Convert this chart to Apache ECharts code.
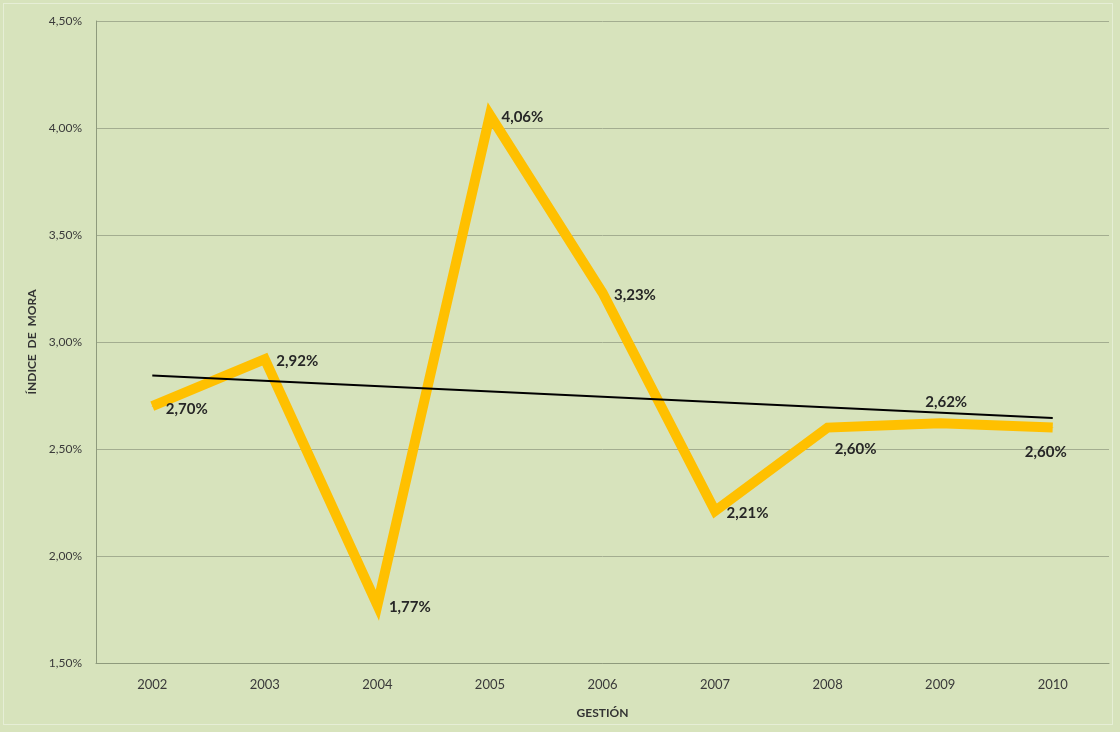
<!DOCTYPE html>
<html>
<head>
<meta charset="utf-8">
<script src="https://cdn.jsdelivr.net/npm/echarts@6/dist/echarts.min.js"></script>
<style>
html,body{margin:0;padding:0;background:#d7e3bc;}
#frame{position:absolute;left:3px;top:3px;width:1110px;height:722px;border:1px solid #e6eed6;box-sizing:border-box;}
#chart{position:absolute;left:0;top:0;width:1120px;height:732px;}
</style>
</head>
<body>
<div id="frame"></div>
<div id="chart"></div>
<script>
const categories = ['2002','2003','2004','2005','2006','2007','2008','2009','2010'];
const moraValues = [2.70, 2.92, 1.77, 4.06, 3.23, 2.21, 2.60, 2.62, 2.60];
const labelPlacement = ['br','r','r','r','r','r','b8','t','b10'];
const trendStart = 2.843;
const trendEnd = 2.645;

function pct(v){ return v.toFixed(2).replace('.', ',') + '%'; }

const labelOffsets = {
  br:  {position:'right', offset:[8, 3]},
  r:   {position:'right', offset:[6, 2]},
  b8:  {position:'bottom', offset:[28, 9]},
  b10: {position:'bottom', offset:[-7, 12]},
  t:   {position:'top', offset:[6, -8]}
};

const lineData = moraValues.map((v, i) => ({
  value: v,
  label: Object.assign({show:true}, labelOffsets[labelPlacement[i]])
}));

const chart = echarts.init(document.getElementById('chart'), null, {renderer:'canvas'});
chart.setOption({
  backgroundColor: 'transparent',
  animation: false,
  textStyle: {fontFamily: 'Lato'},
  grid: {left: 96, right: 11, top: 21, bottom: 69},
  xAxis: {
    type: 'category',
    data: categories,
    boundaryGap: true,
    name: 'GESTIÓN',
    nameLocation: 'middle',
    nameGap: 44,
    nameTextStyle: {fontWeight: 'bold', fontSize: 12, color: '#333'},
    axisLine: {lineStyle: {color: '#8e9a7c', width: 1}},
    axisTick: {show: false},
    axisLabel: {color: '#3a3a3a', fontSize: 13, margin: 15}
  },
  yAxis: {
    type: 'value',
    min: 1.5,
    max: 4.5,
    interval: 0.5,
    name: 'ÍNDICE  DE  MORA',
    nameLocation: 'middle',
    nameGap: 57,
    nameTextStyle: {fontWeight: 'bold', fontSize: 12, color: '#333'},
    axisLine: {show: true, lineStyle: {color: '#8e9a7c', width: 1}},
    axisTick: {show: false},
    axisLabel: {color: '#3a3a3a', fontSize: 12, margin: 14, formatter: pct},
    splitLine: {lineStyle: {color: '#a3ad90', width: 1}}
  },
  series: [
    {
      type: 'line',
      data: lineData,
      symbol: 'circle',
      symbolSize: 1,
      showSymbol: true,
      itemStyle: {color: '#ffc000'},
      lineStyle: {color: '#ffc000', width: 10, join: 'miter'},
      label: {show: true, fontWeight: 'bold', fontSize: 15, color: '#262626', formatter: p => pct(p.value)},
      z: 2
    },
    {
      type: 'line',
      data: [[0, trendStart], [categories.length - 1, trendEnd]],
      symbol: 'none',
      lineStyle: {color: '#000', width: 2},
      z: 3
    }
  ]
});
</script>
</body>
</html>
